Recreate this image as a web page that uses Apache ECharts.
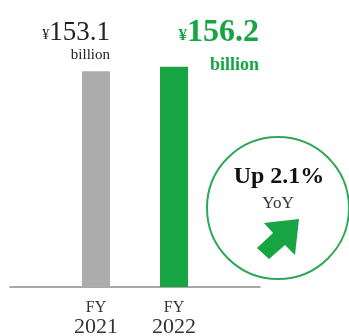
<!DOCTYPE html>
<html>
<head>
<meta charset="utf-8">
<script src="https://cdn.jsdelivr.net/npm/echarts@6/dist/echarts.min.js"></script>
<style>
  html, body { margin: 0; padding: 0; background: #fff; }
  #chart { width: 349px; height: 336px; }
</style>
</head>
<body>
<div id="chart"></div>
<script>
// Net sales by fiscal year (¥ billion)
const fiscalYears = ['2021', '2022'];
const sales = [153.1, 156.2];
const barColors = ['#acacac', '#17a544'];
const yoyText = 'Up 2.1%';
const yoySub = 'YoY';

const GREEN = '#17a544';
const SERIF = '"Liberation Serif", "Times New Roman", serif';

const chart = echarts.init(document.getElementById('chart'), null, { renderer: 'canvas' });

// Label styles for each bar: previous year plain, current year bold green
const labelStyles = [
  {
    position: [28, -7],
    rich: {
      y: { fontFamily: SERIF, fontSize: 14, color: '#222', verticalAlign: 'bottom', padding: [0, 0, 4, 0] },
      v: { fontFamily: SERIF, fontSize: 27, color: '#222', lineHeight: 26 },
      u: { fontFamily: SERIF, fontSize: 15, color: '#222', lineHeight: 18 }
    }
  },
  {
    position: [99, 16],
    rich: {
      y: { fontFamily: SERIF, fontSize: 17, fontWeight: 'bold', color: GREEN, verticalAlign: 'bottom', padding: [0, 0, 5, 0] },
      v: { fontFamily: SERIF, fontSize: 32, fontWeight: 'bold', color: GREEN, lineHeight: 32 },
      u: { fontFamily: SERIF, fontSize: 18, fontWeight: 'bold', color: GREEN, lineHeight: 34 }
    }
  }
];

const barData = sales.map((v, i) => ({
  value: v,
  itemStyle: { color: barColors[i] },
  label: Object.assign({
    show: true,
    align: 'right',
    verticalAlign: 'bottom',
    formatter: (p) => '{y|¥}{v|' + p.value.toFixed(1) + '}\n{u|billion}'
  }, labelStyles[i])
}));

const cx = 278, cy = 208, r = 71;

const option = {
  animation: false,
  backgroundColor: '#fff',
  grid: [
    { left: 57, width: 156, top: 5, bottom: 49, outerBoundsMode: 'none', containLabel: false },
    { left: 10, right: 89, top: 5, bottom: 49, outerBoundsMode: 'none', containLabel: false }
  ],
  xAxis: [
    {
      type: 'category',
      gridIndex: 0,
      data: fiscalYears.map(y => 'FY\n' + y),
      axisLine: { show: false },
      axisTick: { show: false },
      axisLabel: {
        margin: 13,
        formatter: (val) => {
          const parts = val.split('\n');
          return '{a|' + parts[0] + '}\n{b|' + parts[1] + '}';
        },
        rich: {
          a: { fontFamily: SERIF, fontSize: 16, color: '#333', lineHeight: 16 },
          b: { fontFamily: SERIF, fontSize: 22, color: '#333', lineHeight: 22 }
        }
      }
    },
    {
      type: 'value',
      gridIndex: 1,
      min: 0,
      max: 1,
      axisLine: { show: true, lineStyle: { color: '#8c8c8c', width: 1.5 } },
      axisTick: { show: false },
      axisLabel: { show: false },
      splitLine: { show: false }
    }
  ],
  yAxis: [
    { type: 'value', gridIndex: 0, min: 0, max: 200, show: false },
    { type: 'value', gridIndex: 1, min: 0, max: 1, show: false }
  ],
  series: [
    {
      type: 'bar',
      xAxisIndex: 0,
      yAxisIndex: 0,
      barWidth: 28,
      data: barData
    }
  ],
  graphic: [
    {
      type: 'circle',
      shape: { cx: cx, cy: cy, r: r },
      style: { fill: '#fff', stroke: '#2ea856', lineWidth: 2 },
      z: 10
    },
    {
      type: 'text',
      x: cx + 1, y: cy - 19,
      style: {
        text: yoyText,
        font: 'bold 24px ' + SERIF,
        fill: '#111',
        align: 'center',
        verticalAlign: 'bottom'
      },
      z: 11
    },
    {
      type: 'text',
      x: cx, y: cy + 4,
      style: {
        text: yoySub,
        font: '17px ' + SERIF,
        fill: '#333',
        align: 'center',
        verticalAlign: 'bottom'
      },
      z: 11
    },
    {
      type: 'polygon',
      shape: {
        points: [
          [299, 219], [264, 223], [273, 233], [257, 248],
          [269, 259], [285, 245], [295, 255]
        ]
      },
      style: { fill: GREEN },
      z: 11
    }
  ]
};

chart.setOption(option);
</script>
</body>
</html>
